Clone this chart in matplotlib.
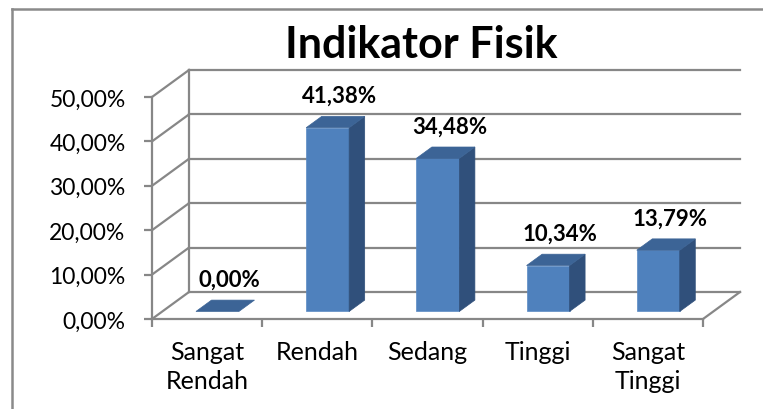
import matplotlib.pyplot as plt
from matplotlib.patches import Polygon
from matplotlib.lines import Line2D
import numpy as np

categories = ['Sangat\nRendah', 'Rendah', 'Sedang', 'Tinggi', 'Sangat\nTinggi']
values = [0.00, 41.38, 34.48, 10.34, 13.79]
y_ticks = [0, 10, 20, 30, 40, 50]
title = 'Indikator Fisik'

plt.rcParams['font.family'] = ['Lato', 'DejaVu Sans']

front_col = '#4f81bd'
top_col = '#3c6496'
side_col = '#30507b'
grid_col = '#878787'

W, H = 763, 410
fig = plt.figure(figsize=(W / 100, H / 100), dpi=100)

# front plane of the 3d box (pixels): x 152..703, y 98..320
left, right, top, bottom = 152, 703, 98, 320
ax = fig.add_axes([left / W, 1 - bottom / H, (right - left) / W, (bottom - top) / H])
ax.set_xlim(-0.5, 4.5)
ax.set_ylim(0, 50)

# depth of the box in pixels, converted to data units
sx = (right - left) / 5.0
sy = (bottom - top) / 50.0
ddx = 37 / sx
ddy = 27 / sy

for s in ['top', 'right']:
    ax.spines[s].set_visible(False)
for s in ['left', 'bottom']:
    ax.spines[s].set_color(grid_col)
    ax.spines[s].set_linewidth(1.6)

# back wall gridlines and left wall diagonals
for v in y_ticks:
    ax.add_line(Line2D([-0.5 + ddx, 4.5 + ddx], [v + ddy, v + ddy], color=grid_col, lw=1.6, clip_on=False, zorder=1))
    ax.add_line(Line2D([-0.5, -0.5 + ddx], [v, v + ddy], color=grid_col, lw=1.6, clip_on=False, zorder=1))
ax.add_line(Line2D([-0.5 + ddx, -0.5 + ddx], [ddy, 50 + ddy], color=grid_col, lw=1.6, clip_on=False, zorder=1))
# right edge of floor
ax.add_line(Line2D([4.5, 4.5 + ddx], [0, ddy], color=grid_col, lw=1.6, clip_on=False, zorder=1))

# bars
bw = 0.39
f0, f1 = 0.28, 0.70
for i, v in enumerate(values):
    x0 = i - bw / 2 + f0 * ddx
    x1 = x0 + bw
    y0 = f0 * ddy
    bx, by = (f1 - f0) * ddx, (f1 - f0) * ddy
    if v > 0:
        ax.add_patch(Polygon([(x0, y0), (x1, y0), (x1, y0 + v), (x0, y0 + v)], closed=True,
                             facecolor=front_col, edgecolor='#5a8ac4', lw=0.5, zorder=4, clip_on=False))
        ax.add_patch(Polygon([(x1, y0), (x1 + bx, y0 + by), (x1 + bx, y0 + by + v), (x1, y0 + v)], closed=True,
                             facecolor=side_col, edgecolor=side_col, lw=0.5, zorder=4, clip_on=False))
    ax.add_patch(Polygon([(x0, y0 + v), (x1, y0 + v), (x1 + bx, y0 + by + v), (x0 + bx, y0 + by + v)], closed=True,
                         facecolor=top_col, edgecolor=top_col, lw=0.5, zorder=4, clip_on=False))
    ax.text(i + 0.2, y0 + v + 7.3, f'{v:.2f}%'.replace('.', ','), ha='center', va='center',
            fontsize=16, fontweight='bold', zorder=5)

# ticks and labels
ax.set_yticks(y_ticks)
ax.set_yticklabels([f'{v:.2f}%'.replace('.', ',') for v in y_ticks])
ax.tick_params(axis='y', length=6, width=1.6, color=grid_col, pad=13, labelsize=16.5)
ax.set_xticks(np.arange(-0.5, 5, 1.0))
ax.set_xticklabels([])
ax.tick_params(axis='x', which='major', length=6, width=1.6, color=grid_col)
ax.set_xticks(range(len(categories)), minor=True)
ax.set_xticklabels(categories, minor=True, fontsize=18, linespacing=1.35)
ax.tick_params(axis='x', which='minor', length=0, pad=15)

fig.text(421 / W, 1 - 45 / H, title, ha='center', va='center', fontsize=31, fontweight='bold')

# chart border
fig.add_artist(Line2D([11.5 / W, 11.5 / W], [0, 1 - 10 / H], color='#8a8a8a', lw=1.8))
fig.add_artist(Line2D([11.5 / W, 1], [1 - 10 / H, 1 - 10 / H], color='#8a8a8a', lw=1.8))

fig.savefig('out.png', dpi=100)
